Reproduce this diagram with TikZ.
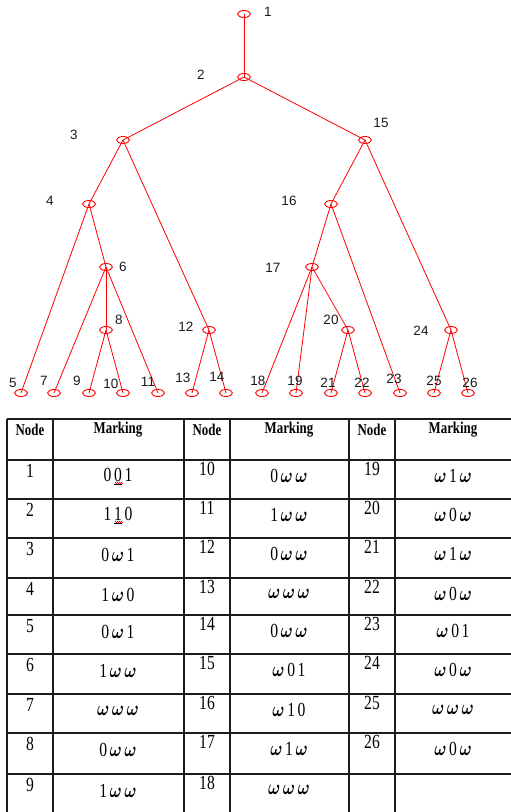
\documentclass[tikz,border=0pt]{standalone}
\usepackage{amsmath}
\usepackage{fontspec}
\setmainfont{Liberation Serif}
\newfontfamily\treefont{Liberation Sans}
\usetikzlibrary{shapes.geometric,decorations.pathmorphing}
\definecolor{TreeRed}{HTML}{FF0000}
\definecolor{TreeInk}{HTML}{1A1A1A}
\definecolor{GridInk}{HTML}{1C1C1C}
\newcommand{\om}{\ensuremath{\boldsymbol{\omega}}}
\newcommand{\narrow}[1]{\scalebox{0.78}[1]{#1}}

\begin{document}
\begin{tikzpicture}[x=1pt,y=-1pt,
  vtx/.style={draw=TreeRed,line width=0.9pt,ellipse,minimum width=13pt,minimum height=7pt,inner sep=0pt},
  branch/.style={TreeRed,line width=0.8pt},
  lbl/.style={TreeInk,font=\treefont\fontsize{13.5}{14}\selectfont,inner sep=0pt},
  tabline/.style={GridInk,line width=1.2pt},
  hdr/.style={font=\fontsize{16.5}{16.5}\selectfont\bfseries,inner sep=0pt},
  idx/.style={font=\fontsize{20}{20}\selectfont,inner sep=0pt},
  mkcell/.style={font=\fontsize{20}{20}\selectfont,inner sep=0pt},
  squig/.style={TreeRed,line width=0.5pt,decorate,decoration={zigzag,amplitude=0.8pt,segment length=2pt}}]
  \useasboundingbox (0,0) rectangle (511,812);

  % reachability tree
  \foreach \n/\x/\y in {1/244/14,2/244/77,3/123/140,4/89/204,5/21/393,6/106/267,
      7/54/393,8/106/330,9/89/393,10/123/393,11/158/393,12/209/330,13/192/393,
      14/226/393,15/365/140,16/331/204,17/312/267,18/262/393,19/296/393,
      20/348/330,21/331/393,22/365/393,23/400/393,24/451/330,25/434/393,26/468/393}
    \node[vtx] (v\n) at (\x,\y) {};
  \foreach \a/\b in {1/2,2/3,2/15,3/4,3/12,4/5,4/6,6/7,6/8,6/11,8/9,8/10,12/13,12/14,
      15/16,15/24,16/17,16/23,17/18,17/19,17/20,20/21,20/22,24/25,24/26}
    \draw[branch] (v\a.center) -- (v\b.center);
  \foreach \n/\x/\y in {1/268/12,2/201/75,3/74/135,15/381/123,4/50/201,16/289/201,
      6/123/267,17/273/268,8/119/320,12/186/327,20/331/320,24/421/331,5/13/383,
      7/44/381,9/77/381,10/111/384,11/148/382,13/183/378,14/217/377,18/258/381,
      19/295/381,21/328/383,22/362/383,23/394/379,25/434/381,26/470/383}
    \node[lbl] (t\n) at (\x,\y) {\n};

  % marking table
  \foreach \y in {419,460,499,538,578,615,654,694,733,774}
    \draw[tabline] (7,\y) -- (511,\y);
  \foreach \x in {7,53,184,230,349,395}
    \draw[tabline] (\x,419) -- (\x,812);
  \foreach \c/\x/\t in {1/30/Node,2/118/Marking,3/207/Node,4/289/Marking,5/372/Node,6/453/Marking}
    \node[hdr] (h\c) at (\x,430) {\narrow{\t}};
  \foreach \r/\y/\na/\ma/\nb/\mb/\nc/\mc in {
      1/460/1/0\,\underline{0}\,1/10/0\,\om\,\om/19/\om\,1\,\om,
      2/499/2/1\,\underline{1}\,0/11/1\,\om\,\om/20/\om\,0\,\om,
      3/538/3/0\,\om\,1/12/0\,\om\,\om/21/\om\,1\,\om,
      4/578/4/1\,\om\,0/13/\om\,\om\,\om/22/\om\,0\,\om,
      5/615/5/0\,\om\,1/14/0\,\om\,\om/23/\om\,0\,1,
      6/654/6/1\,\om\,\om/15/\om\,0\,1/24/\om\,0\,\om,
      7/694/7/\om\,\om\,\om/16/\om\,1\,0/25/\om\,\om\,\om,
      8/733/8/0\,\om\,\om/17/\om\,1\,\om/26/\om\,0\,\om}{
    \node[idx] (a\r) at (30,\y+11) {\narrow{\na}};
    \node[mkcell] (b\r) at (118,\y+17) {\narrow{\ma}};
    \node[idx] (c\r) at (207,\y+9) {\narrow{\nb}};
    \node[mkcell] (d\r) at (289,\y+16) {\narrow{\mb}};
    \node[idx] (e\r) at (372,\y+9) {\narrow{\nc}};
    \node[mkcell] (f\r) at (453,\y+16) {\narrow{\mc}};
  }
  \node[idx] (a9) at (30,785) {\narrow{9}};
  \node[mkcell] (b9) at (118,791) {\narrow{1\,\om\,\om}};
  \node[idx] (c9) at (207,783) {\narrow{18}};
  \node[mkcell] (d9) at (289,790) {\narrow{\om\,\om\,\om}};
  \draw[squig] (115,483) -- (123,483);
  \draw[squig] (115,522) -- (123,522);
\end{tikzpicture}
\end{document}
